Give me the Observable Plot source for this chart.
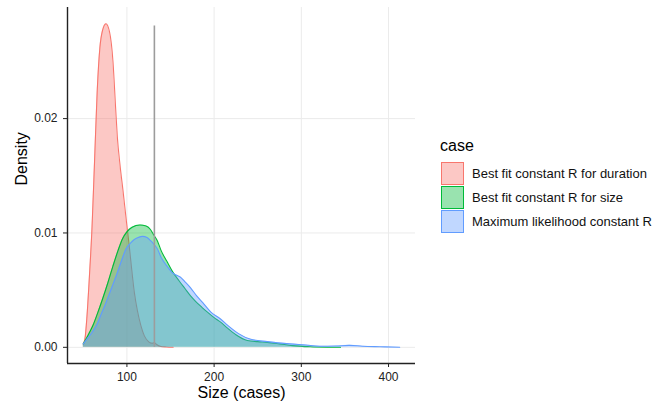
<!DOCTYPE html>
<html>
<head>
<meta charset="utf-8">
<script src="https://cdn.jsdelivr.net/npm/d3@7"></script>
<script src="https://cdn.jsdelivr.net/npm/@observablehq/plot@0.6"></script>
<style>
  body { margin: 0; background: white; }
  #wrap { position: relative; width: 670px; height: 411px; font-family: "Liberation Sans", Arial, sans-serif; }
  #legend { position: absolute; left: 0; top: 0; }
  .ltitle { position: absolute; left: 440px; top: 138px; font-size: 16px; line-height: 16px; color: #000; }
  .lrow { position: absolute; left: 441px; height: 23px; display: flex; align-items: center; white-space: nowrap; }
  .sw { width: 23px; height: 23px; box-sizing: border-box; border: 1px solid; }
  .lab { margin-left: 8px; font-size: 13px; color: #111; }
</style>
</head>
<body>
<div id="wrap"><div id="legend"></div></div>
<script>
// ---- data ----
const cases = ["Best fit constant R for duration", "Best fit constant R for size", "Maximum likelihood constant R"];
const colors = ["#F8766D", "#00BA38", "#619CFF"];

const durationX = [50, 52, 54, 57, 60, 63, 66, 69, 72, 76, 80, 84, 87, 89, 92, 95.5, 99, 102.6, 105.5, 108.5, 112, 116, 120, 125, 129, 131.5, 134, 138, 145, 153];
const durationY = [0.0003, 0.0008, 0.0025, 0.0062, 0.0105, 0.0165, 0.0225, 0.0262, 0.0277, 0.0283, 0.0276, 0.025, 0.021, 0.0184, 0.016, 0.0137, 0.0113, 0.0089, 0.0068, 0.0048, 0.0032, 0.0019, 0.001, 0.00048, 0.00035, 0.0004, 0.00025, 0.0001, 0.00003, 0];

const sizeX = [50, 55, 61, 66, 72, 78, 84, 90, 95, 100, 106, 115, 122, 127, 131, 135, 139, 146, 152.5, 160, 166, 173, 179, 186, 192, 200, 207.5, 215, 225, 238, 250, 261, 275, 290, 310, 330, 345];
const sizeY = [0.0003, 0.001, 0.0019, 0.0029, 0.0042, 0.0056, 0.0071, 0.0085, 0.0095, 0.0101, 0.0105, 0.0107, 0.0106, 0.0103, 0.0098, 0.0093, 0.0085, 0.0075, 0.0066, 0.0058, 0.0052, 0.0045, 0.004, 0.0035, 0.0031, 0.0026, 0.0022, 0.0017, 0.0011, 0.0006, 0.0005, 0.00043, 0.0003, 0.00015, 0.00005, 0.00001, 0];

const mlX = [50, 55, 60, 65, 70, 76, 82, 88, 93, 99, 104, 108, 113, 118, 123, 127.5, 131, 135, 139, 146, 152.5, 157, 162, 167, 173, 180, 187, 196, 207, 216, 228, 242, 261, 287, 305, 321, 340, 355, 370, 390, 412.8];
const mlY = [0.0003, 0.0008, 0.0013, 0.0019, 0.0028, 0.0039, 0.0051, 0.0063, 0.0074, 0.0086, 0.0091, 0.0094, 0.0096, 0.0097, 0.0096, 0.0093, 0.009, 0.0086, 0.0079, 0.0071, 0.0065, 0.0063, 0.0061, 0.0057, 0.0052, 0.0045, 0.0039, 0.0031, 0.0025, 0.0019, 0.0012, 0.0007, 0.0005, 0.0003, 0.0002, 0.0001, 0.00012, 0.00017, 0.0001, 0.00005, 0];

const xTicks = [100, 200, 300, 400];
const yTicks = [0, 0.01, 0.02];
const vlineX = 131.5;
const vlineTop = 0.0281;

// ---- build table ----
const seriesX = [durationX, sizeX, mlX];
const seriesY = [durationY, sizeY, mlY];
const rows = [];
cases.forEach((c, i) => seriesX[i].forEach((x, j) => rows.push({case: c, x, y: seriesY[i][j]})));

const allX = rows.map(r => r.x), allY = rows.map(r => r.y);
const xmin = d3.min(allX), xmax = d3.max(allX);
const ymin = 0, ymax = d3.max(allY);
const xpad = 0.05 * (xmax - xmin), ypad = 0.05 * (ymax - ymin);
const xDomain = [xmin - xpad, xmax + xpad];
const yDomain = [ymin - ypad, ymax + ypad];

const marks = [
  Plot.ruleX(xTicks, {stroke: "#ebebeb", strokeWidth: 1}),
  Plot.ruleY(yTicks, {stroke: "#ebebeb", strokeWidth: 1})
];
cases.forEach((c, i) => {
  const d = rows.filter(r => r.case === c);
  marks.push(Plot.areaY(d, {x: "x", y: "y", fill: colors[i], fillOpacity: 0.4, curve: "monotone-x"}));
  marks.push(Plot.lineY(d, {x: "x", y: "y", stroke: colors[i], strokeWidth: 1.1, curve: "monotone-x"}));
});
marks.push(Plot.ruleX([vlineX], {y1: 0, y2: vlineTop, stroke: "#9c9c9c", strokeWidth: 1.6}));
// axis lines (left and bottom), at the domain edges
marks.push(Plot.ruleX([xDomain[0]], {stroke: "#222", strokeWidth: 1.4}));
marks.push(Plot.ruleY([yDomain[0]], {stroke: "#222", strokeWidth: 1.4}));
marks.push(Plot.text(["Density"], {text: d => d, frameAnchor: "left", dx: -46, rotate: -90, fontSize: 16, fill: "#000"}));
marks.push(Plot.text(["Size (cases)"], {text: d => d, frameAnchor: "bottom", dy: 34, fontSize: 16, fill: "#000"}));

const chart = Plot.plot({
  width: 670,
  height: 411,
  marginLeft: 67,
  marginRight: 255,
  marginTop: 7,
  marginBottom: 48,
  style: {fontFamily: "Liberation Sans, Arial, sans-serif", fontSize: "12px", color: "#222", background: "white", overflow: "visible"},
  x: {domain: xDomain, ticks: xTicks, tickSize: 4, tickPadding: 5, label: null},
  y: {domain: yDomain, ticks: yTicks, tickFormat: ".2f", tickSize: 4, tickPadding: 6, label: null},
  marks
});
document.getElementById("wrap").prepend(chart);

// ---- legend ----
const lg = document.getElementById("legend");
const t = document.createElement("div");
t.className = "ltitle"; t.textContent = "case";
lg.appendChild(t);
cases.forEach((c, i) => {
  const row = document.createElement("div");
  row.className = "lrow";
  row.style.top = (162 + i * 24) + "px";
  const sw = document.createElement("div");
  sw.className = "sw";
  sw.style.borderColor = colors[i];
  const col = d3.color(colors[i]); col.opacity = 0.4;
  sw.style.background = col.formatRgb();
  const lab = document.createElement("span");
  lab.className = "lab"; lab.textContent = c;
  row.appendChild(sw); row.appendChild(lab);
  lg.appendChild(row);
});
</script>
</body>
</html>
